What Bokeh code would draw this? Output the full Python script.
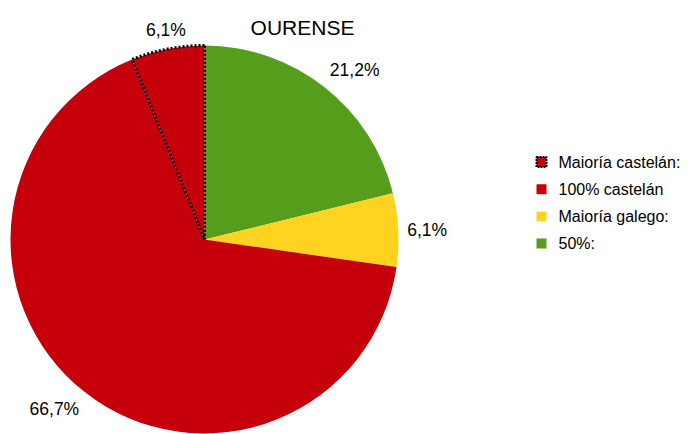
import math
from bokeh.plotting import figure
from bokeh.models import Range1d, ColumnDataSource
from bokeh.core.properties import value
from bokeh.embed import file_html
from bokeh.resources import INLINE

# ---- data ----
title_text = "OURENSE"
categories = ["50%:", "Maioría galego:", "100% castelán", "Maioría castelán:"]
values = [21.2, 6.1, 66.7, 6.1]
colors = ["#579d1c", "#ffd320", "#c5000b", "#c5000b"]
labels = ["21,2%", "6,1%", "66,7%", "6,1%"]
legend_order = ["Maioría castelán:", "100% castelán", "Maioría galego:", "50%:"]

# ---- layout (screen pixels mapped to data units) ----
W, H = 696, 434
def sy(y):  # screen y -> data y
    return H - y

cx, cy, R = 204, sy(239), 194
font = value("Liberation Sans")

p = figure(width=W, height=H, output_backend="svg", toolbar_location=None,
           x_range=Range1d(0, W), y_range=Range1d(0, H),
           min_border=0, outline_line_color=None)
p.axis.visible = False
p.grid.visible = False
p.xaxis.visible = False
p.yaxis.visible = False

total = sum(values)
cum = 0.0
starts, ends, mids = [], [], []
for v in values:
    a0 = math.pi / 2 - 2 * math.pi * cum / total
    cum += v
    a1 = math.pi / 2 - 2 * math.pi * cum / total
    starts.append(a1)
    ends.append(a0)
    mids.append((a0 + a1) / 2)

for i, cat in enumerate(categories):
    if cat == "Maioría castelán:":
        continue
    p.wedge(x=cx, y=cy, radius=R, start_angle=starts[i], end_angle=ends[i],
            fill_color=colors[i], line_color=None)
i = categories.index("Maioría castelán:")
p.wedge(x=cx, y=cy, radius=R, start_angle=starts[i], end_angle=ends[i],
        fill_color=colors[i], line_color="black", line_width=3, line_dash="2 2")

# value labels
lr = 203
lx, ly, la, lb = [], [], [], []
for m in mids:
    c, s = math.cos(m), math.sin(m)
    lx.append(cx + lr * c)
    ly.append(cy + lr * s)
    la.append("left" if c > 0.3 else ("right" if c < -0.3 else "center"))
    lb.append("bottom" if s > 0.15 else ("top" if s < -0.15 else "middle"))
src = ColumnDataSource(dict(x=lx, y=ly, t=labels, a=la, b=lb))
p.text(x="x", y="y", text="t", text_align="a", text_baseline="b", source=src,
       text_font=font, text_font_size="17.5px", text_color="black")

# title
p.text(x=[302], y=[sy(27)], text=[title_text], text_align="center",
       text_baseline="alphabetic", text_font=font, text_font_size="21px",
       text_color="black")

# legend
lg_x, lg_top, lg_step = 541, sy(161.5), 27.2
for k, cat in enumerate(legend_order):
    j = categories.index(cat)
    yy = lg_top - k * lg_step
    if cat == "Maioría castelán:":
        p.scatter(x=[lg_x], y=[yy], marker="square", size=10, fill_color=colors[j],
                  line_color="black", line_width=2, line_dash="2 1")
    else:
        p.scatter(x=[lg_x], y=[yy], marker="square", size=10, fill_color=colors[j],
                  line_color=None)
    p.text(x=[lg_x + 17], y=[yy], text=[cat], text_align="left",
           text_baseline="middle", text_font=font, text_font_size="16px",
           text_color="black")

open("out.html", "w").write(file_html(p, INLINE))
